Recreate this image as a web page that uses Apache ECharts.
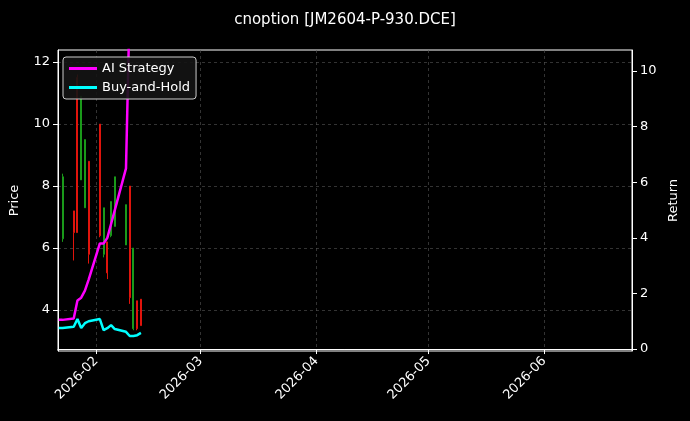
<!DOCTYPE html>
<html><head><meta charset="utf-8">
<script src="https://cdn.jsdelivr.net/npm/echarts@6/dist/echarts.min.js"></script>
<style>html,body{margin:0;background:#000}#c{width:690px;height:421px}</style></head>
<body><div id="c"></div>
<script>
const candleDates=['2026-01-23','2026-01-26','2026-01-27','2026-01-28','2026-01-29','2026-01-30','2026-02-02','2026-02-03','2026-02-04','2026-02-05','2026-02-06','2026-02-09','2026-02-10','2026-02-11','2026-02-12','2026-02-13'];
// [open, close, low, high]
const ohlc=[[6.3,8.3,6.2,8.4],[7.2,6.5,5.6,7.2],[11.5,6.5,6.5,11.6],[8.2,10.9,8.2,10.9],[7.3,9.5,7.3,9.5],[8.8,5.8,5.5,8.8],[10.0,6.4,6.35,10.0],[5.8,7.3,5.7,7.3],[6.2,5.2,5.0,6.2],[6.4,7.5,6.35,7.5],[6.7,8.3,6.7,8.3],[6.1,7.4,6.1,7.4],[8.0,4.4,4.2,8.0],[3.4,6.0,3.35,6.0],[4.3,3.4,3.35,4.3],[4.35,3.5,3.5,4.35]];
const lineDates=['2026-01-22','2026-01-23','2026-01-26','2026-01-27','2026-01-28','2026-01-29','2026-01-30','2026-02-02','2026-02-03','2026-02-04','2026-02-05','2026-02-06','2026-02-09','2026-02-10','2026-02-11','2026-02-12','2026-02-13'];
const aiReturn=[1.05,1.05,1.1,1.75,1.85,2.1,2.5,3.8,3.8,4.0,4.5,5.0,6.5,12.5,15,16,17];
const bhReturn=[0.76,0.76,0.8,1.08,0.76,0.93,1.0,1.08,0.68,0.75,0.86,0.72,0.62,0.47,0.47,0.5,0.58];
const priceTicks=[4,6,8,10,12];
const returnTicks=[0,2,4,6,8,10];
const F='DejaVu Sans';
const ch=echarts.init(document.getElementById('c'));
const grid={show:true,lineStyle:{color:'#555',type:[3,3],width:0.6}};
ch.setOption({
 backgroundColor:'#000',animation:false,textStyle:{fontFamily:F},
 title:{text:'cnoption [JM2604-P-930.DCE]',left:'center',top:8,textStyle:{color:'#fff',fontSize:15,fontWeight:'normal',fontFamily:F}},
 legend:{left:63,top:57,orient:'vertical',itemWidth:28,itemHeight:3,itemGap:6,padding:[5,6],borderColor:'#ccc',borderWidth:1,borderRadius:3,backgroundColor:'rgba(20,20,20,0.9)',textStyle:{color:'#fff',fontSize:13,fontFamily:F},data:[{name:'AI Strategy',icon:'rect'},{name:'Buy-and-Hold',icon:'rect'}]},
 grid:{left:57,right:58,top:50,bottom:70,show:true,borderColor:'#fff',borderWidth:1},
 xAxis:{type:'time',min:new Date('2026-01-21T19:00:00').getTime(),max:new Date('2026-06-24T12:00:00').getTime(),splitNumber:6,
   axisLine:{show:true,lineStyle:{color:'#fff'}},axisTick:{show:true,lineStyle:{color:'#fff'}},splitLine:grid,
   axisLabel:{color:'#fff',fontSize:13,rotate:45,formatter:'{yyyy}-{MM}',hideOverlap:false,fontFamily:F}},
 yAxis:[{type:'value',min:2.68,max:12.39,name:'Price',nameLocation:'middle',nameGap:37,nameTextStyle:{color:'#fff',fontSize:13,fontFamily:F},
   axisLine:{show:true,lineStyle:{color:'#fff'}},splitLine:grid,
   axisTick:{show:true,customValues:priceTicks,lineStyle:{color:'#fff'}},
   axisLabel:{color:'#fff',fontSize:13,customValues:priceTicks,fontFamily:F}},
  {type:'value',min:-0.07,max:10.76,name:'Return',nameLocation:'middle',nameGap:33,nameTextStyle:{color:'#fff',fontSize:13,fontFamily:F},splitLine:{show:false},
   axisLine:{show:true,lineStyle:{color:'#fff'}},
   axisTick:{show:true,customValues:returnTicks,lineStyle:{color:'#fff'}},
   axisLabel:{color:'#fff',fontSize:13,customValues:returnTicks,fontFamily:F}}],
 series:[
  {type:'candlestick',name:'Price',yAxisIndex:0,barMaxWidth:1.5,data:candleDates.map((d,i)=>[d,...ohlc[i]]),
   itemStyle:{color:'#1a9a1a',color0:'#e0140c',borderColor:'#1a9a1a',borderColor0:'#e0140c',borderWidth:1}},
  {type:'line',name:'AI Strategy',yAxisIndex:1,showSymbol:false,clip:true,lineStyle:{color:'#ff00ff',width:2.5},itemStyle:{color:'#ff00ff'},data:lineDates.map((d,i)=>[d,aiReturn[i]])},
  {type:'line',name:'Buy-and-Hold',yAxisIndex:1,showSymbol:false,clip:true,lineStyle:{color:'#00ffff',width:2.5},itemStyle:{color:'#00ffff'},data:lineDates.map((d,i)=>[d,bhReturn[i]])}
 ]});
</script></body></html>
